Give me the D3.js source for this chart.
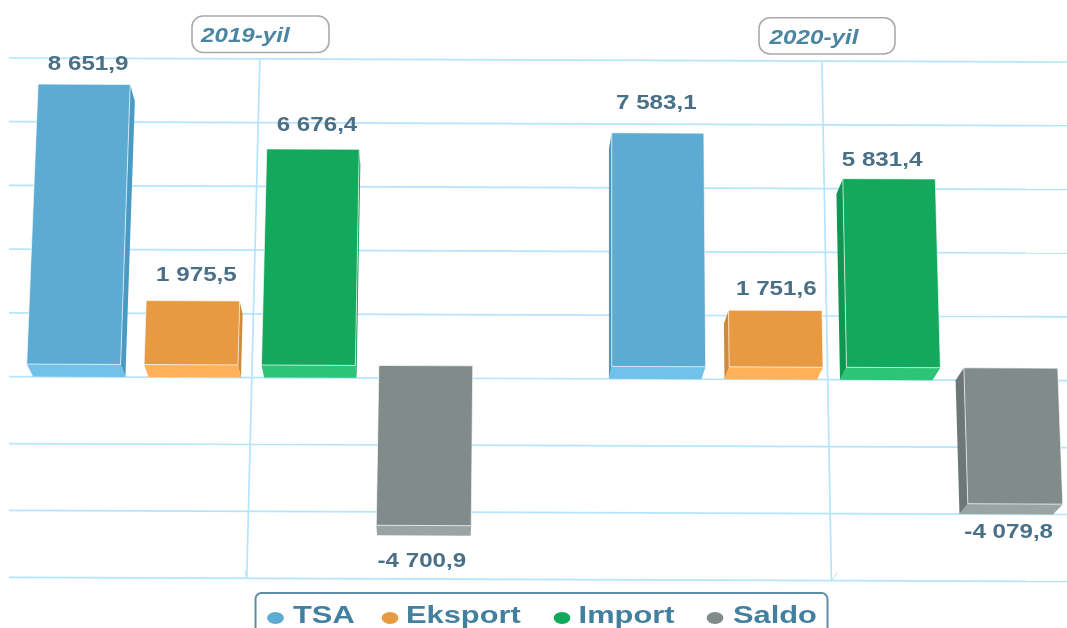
<!DOCTYPE html>
<html><head><meta charset="utf-8">
<script src="https://cdn.jsdelivr.net/npm/d3@7"></script>
<style>html,body{margin:0;padding:0;background:#fff;overflow:hidden}svg{display:block;font-family:"Liberation Sans",Arial,sans-serif}</style>
</head><body><svg id="c" width="1067" height="628"></svg>
<script>
// ---- data ----
const categories = ["2019-yil", "2020-yil"];
const seriesNames = ["TSA", "Eksport", "Import", "Saldo"];
const tsa = [8651.9, 7583.1];
const eksport = [1975.5, 1751.6];
const importValues = [6676.4, 5831.4];
const saldo = [-4700.9, -4079.8];
const gridTicks = [-6000, -4000, -2000, 0, 2000, 4000, 6000, 8000, 10000];
const seriesValues = [tsa, eksport, importValues, saldo];

// ---- styles / layout calibration (not data) ----
const faceColors = ["#5cabd3", "#e79a41", "#12a95c", "#818c8a"];
const bottomColors = ["#70c2ea", "#ffb25a", "#2cc476", "#9aa5a3"];
const sideColors = ["#4a9bc4", "#d08a3b", "#0f9752", "#6d7876"];
const stretch = [[1, 1, 1, 1], [0.952, 1, 1, 0.98]];       // per bar drawn height as in the picture
const labelShift = [
  [[4, 14], [3.5, 20], [4, 18], [-2, 32]],
  [[-1.5, 24], [1, 15], [-7, 13], [2.5, 24]]
];
const svg = d3.select("#c");
const root = svg.append("g").style("filter", "blur(0.45px)");

// ---- scales ----
const y = d3.scaleLinear().domain([-6000, 0, 10000]).range([569, 365, 41.4]);
const xGroup = d3.scaleBand().domain(categories).range([-43.5, 1126.5]);
const xBar = d3.scaleBand().domain(seriesNames).range([58.5, 528]).paddingInner(0.2).paddingOuter(0.1);
const lean = d3.scaleLinear().domain([26, 612, 964]).range([0.0407, 0, -0.029]);

// ---- simple perspective ----
const VP = [430, 1170], DEPTH = 0.0155;
function front(xw, v, st = 1) {
  const y0 = y(v * st);
  return [xw + lean(xw) * (365 - y0), y0 + 0.004 * (xw - 261)];
}
function back(p) { return [p[0] + DEPTH * (VP[0] - p[0]), p[1] + DEPTH * (VP[1] - p[1])]; }
const poly = pts => "M" + pts.map(p => p[0].toFixed(2) + "," + p[1].toFixed(2)).join("L") + "Z";

// ---- grid ----
const clip = svg.append("defs").append("clipPath").attr("id", "plot");
clip.append("rect").attr("x", 9).attr("y", 0).attr("width", 1058).attr("height", 628);
const grid = root.append("g").attr("clip-path", "url(#plot)").attr("fill", "none")
  .attr("stroke", "#b5e5fc").attr("stroke-width", 1.7);
gridTicks.forEach(t => {
  const a = back(front(-60, t)), b = back(front(1160, t));
  const m = back(front(612, t));
  grid.append("path").attr("d", `M${a[0]},${m[1] + (a[0] - m[0]) * 0.0038}L${b[0]},${m[1] + (b[0] - m[0]) * 0.0038}`);
});
categories.forEach(c => {
  const xw = xGroup(c) + xGroup.bandwidth() / 2;
  const top = back(front(xw, 10000)), bot = back(front(xw, -6000));
  grid.append("path").attr("d", `M${top[0]},${top[1]}L${bot[0]},${bot[1]}`);
  const dir = c === categories[0] ? -2 : 6;
  grid.append("path").attr("stroke-width", 1)
    .attr("d", `M${bot[0]},${bot[1]}L${bot[0] + dir},${bot[1] - 8}`);
});

// ---- bars ----
categories.forEach((c, ci) => {
  seriesNames.forEach((s, si) => {
    const v = seriesValues[si][ci], st = stretch[ci][si];
    const x0 = xGroup(c) + xBar(s), x1 = x0 + xBar.bandwidth();
    const tl = front(x0, v > 0 ? v : 0, v > 0 ? st : 1), tr = front(x1, v > 0 ? v : 0, v > 0 ? st : 1);
    const bl = front(x0, v > 0 ? 0 : v, v > 0 ? 1 : st), br = front(x1, v > 0 ? 0 : v, v > 0 ? 1 : st);
    const g = root.append("g");
    const edge = "rgba(255,255,255,0.65)";
    g.append("path").attr("d", poly([bl, br, back(br), back(bl)])).attr("fill", bottomColors[si]);
    if (back(tr)[0] > tr[0] + 0.5) g.append("path").attr("d", poly([tr, back(tr), back(br), br])).attr("fill", sideColors[si]);
    if (back(tl)[0] < tl[0] - 0.5) g.append("path").attr("d", poly([tl, back(tl), back(bl), bl])).attr("fill", sideColors[si]);
    g.append("path").attr("d", poly([tl, tr, br, bl])).attr("fill", faceColors[si]).attr("stroke", edge).attr("stroke-width", 1);

    const cx = (x0 + x1) / 2;
    const [dx, dy] = labelShift[ci][si];
    const anchor = v > 0 ? front(cx, v, st) : back(front(cx, v, st));
    const txt = d3.format(".1f")(Math.abs(v)).replace(".", ",");
    const n = txt.split(",");
    const label = (v < 0 ? "-" : "") + n[0].replace(/\B(?=(\d{3})(?!\d))/g, " ") + "," + n[1];
    root.append("text").attr("transform", `translate(${anchor[0] + dx},${anchor[1] + (v > 0 ? -dy : dy)}) scale(1.24,1)`)
      .attr("text-anchor", "middle").attr("font-weight", 700).attr("font-size", 19.5).attr("fill", "#4a7087").text(label);
  });
});

// ---- category titles ----
const titleBoxes = [[192, 16, 137, 36.5, 201, 41.7], [759, 17.7, 136, 36.3, 769.6, 43.7]];
categories.forEach((c, i) => {
  const [bx, by, bw, bh, tx, ty] = titleBoxes[i];
  root.append("rect").attr("x", bx).attr("y", by).attr("width", bw).attr("height", bh).attr("rx", 11).attr("ry", 11)
    .attr("fill", "#fff").attr("stroke", "#aaaaaa").attr("stroke-width", 1.6);
  root.append("text").attr("transform", `translate(${tx},${ty}) scale(1.21,1)`)
    .attr("font-weight", 700).attr("font-style", "italic").attr("font-size", 20).attr("fill", "#4a86a3").text(c);
});

// ---- legend ----
root.append("path").attr("d", "M255.5,640V599a6,6 0 0 1 6,-6H821.5a6,6 0 0 1 6,6V640")
  .attr("fill", "#fff").attr("stroke", "#5b8ea6").attr("stroke-width", 2);
const legendX = [[275.5, 293], [390, 406], [562, 578.6], [715, 733]];
seriesNames.forEach((s, i) => {
  root.append("ellipse").attr("cx", legendX[i][0]).attr("cy", 618).attr("rx", 8.4).attr("ry", 6).attr("fill", faceColors[i]);
  root.append("text").attr("transform", `translate(${legendX[i][1]},623) scale(1.34,1)`)
    .attr("font-weight", 700).attr("font-size", 23).attr("fill", "#437f9e").text(s);
});
</script></body></html>
